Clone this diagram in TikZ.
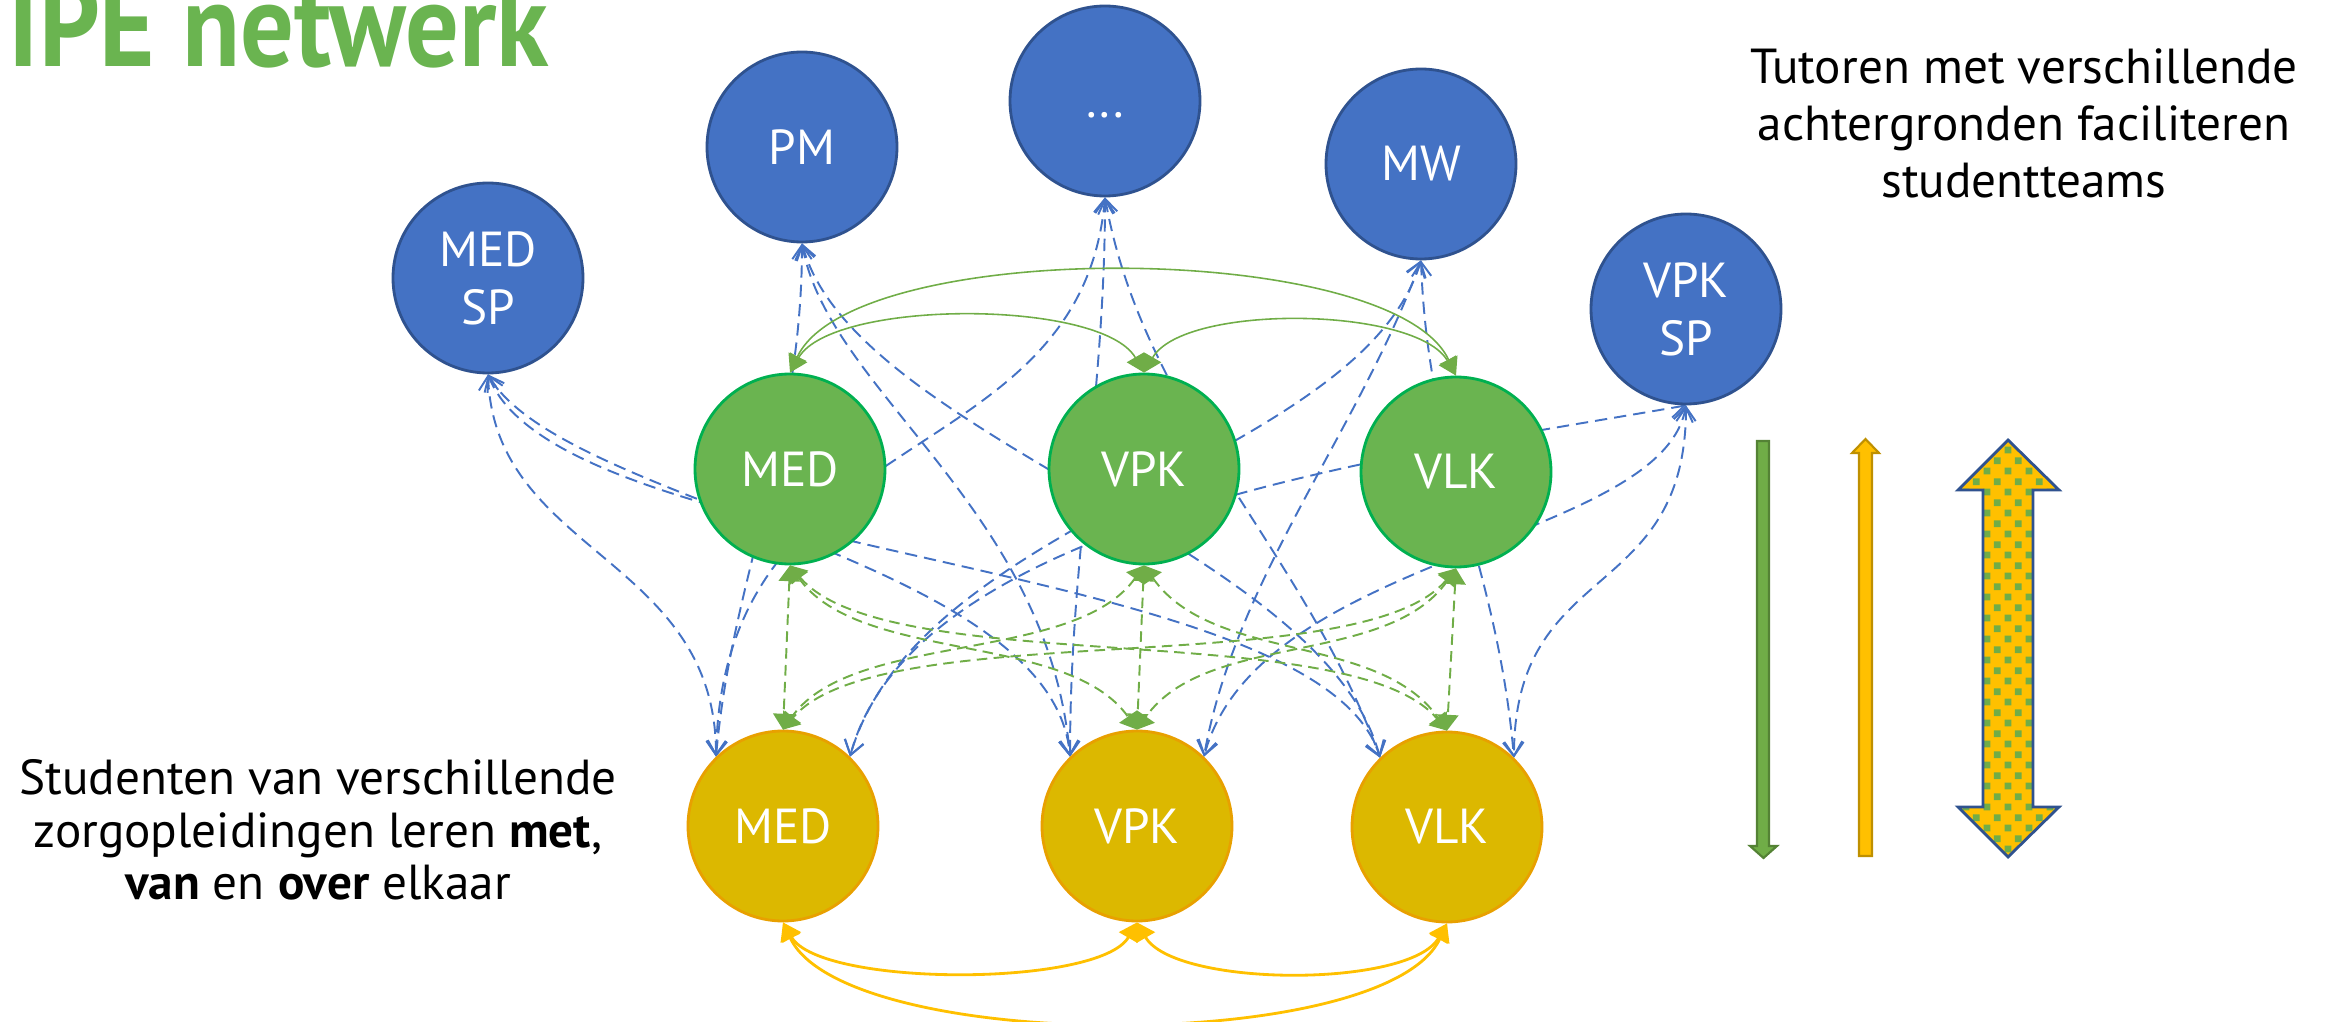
\documentclass[tikz,border=0pt]{standalone}
\usepackage{fontspec}
\setmainfont{PT Sans}
\newfontfamily\kopfont[FakeStretch=0.89]{PT Sans}
\usetikzlibrary{arrows.meta,patterns,backgrounds}
\definecolor{tblue}{HTML}{4472C4}
\definecolor{tbluerim}{HTML}{2F528F}
\definecolor{tgreen}{HTML}{6AB450}
\definecolor{tgreenrim}{HTML}{00B050}
\definecolor{lgreen}{HTML}{70AD47}
\definecolor{dgreen}{HTML}{548235}
\definecolor{tyellow}{HTML}{DCB800}
\definecolor{tyellowrim}{HTML}{E8A000}
\definecolor{lyellow}{HTML}{FFC000}
\definecolor{dyellow}{HTML}{BF9000}
\pgfdeclarepatternformonly{greensquares}{\pgfqpoint{0pt}{0pt}}{\pgfqpoint{6pt}{6pt}}{\pgfqpoint{6pt}{6pt}}{%
	\pgfpathrectangle{\pgfqpoint{0.5pt}{0.5pt}}{\pgfqpoint{2pt}{2pt}}%
	\pgfpathrectangle{\pgfqpoint{3.5pt}{3.5pt}}{\pgfqpoint{2pt}{2pt}}%
	\pgfusepath{fill}}
\tikzset{
	circ/.style={circle,minimum size=1.9cm,inner sep=0pt,line width=0.8pt,text=white,align=center,font=\fontsize{14}{16.5}\selectfont},
	tutor/.style={circ,fill=tblue,draw=tbluerim},
	team/.style={circ,fill=tgreen,draw=tgreenrim},
	stud/.style={circ,fill=tyellow,draw=tyellowrim},
	txt/.style={align=center,inner sep=0pt,font=\fontsize{14}{16.2}\selectfont},
	bline/.style={tblue,line width=0.55pt,dash pattern=on 3.5pt off 2pt,{Straight Barb[length=4pt,width=5.5pt]}-{Straight Barb[length=4pt,width=5.5pt]}},
	gline/.style={lgreen,line width=0.55pt,dash pattern=on 3pt off 1.8pt,{Triangle[length=4.5pt,width=6pt]}-{Triangle[length=4.5pt,width=6pt]}},
	garc/.style={lgreen,line width=0.45pt,{Triangle[length=5pt,width=5.5pt]}-{Triangle[length=5pt,width=5.5pt]}},
	yarc/.style={lyellow,line width=0.8pt,{Triangle[length=5pt,width=6pt]}-{Triangle[length=5pt,width=6pt]}}
}
\begin{document}
\begin{tikzpicture}
	\useasboundingbox (0,0) rectangle (23.43,-10.22);
	\clip (0,0) rectangle (23.43,-10.22);
	\node [anchor=base west,inner sep=0pt,text=tgreen,font=\kopfont\bfseries\fontsize{34}{36}\selectfont] (kop) at (0.08,-0.67) {IPE netwerk};

	\node [tutor] (tMEDSP) at (4.88,-2.78) {MED\\SP};
	\node [tutor] (tPM) at (8.02,-1.47) {PM};
	\node [tutor] (tDOTS) at (11.05,-1.01) {};
	\node [anchor=base,inner sep=0pt,text=white,font=\fontsize{14}{16.5}\selectfont] (dots) at ([yshift=-0.17cm]tDOTS.center) {...};
	\node [tutor] (tMW) at (14.21,-1.64) {MW};
	\node [tutor] (tVPKSP) at (16.86,-3.09) {VPK\\SP};

	\node [team] (gMED) at (7.90,-4.69) {MED};
	\node [team] (gVPK) at (11.44,-4.69) {VPK};
	\node [team] (gVLK) at (14.56,-4.72) {VLK};

	\node [stud] (sMED) at (7.83,-8.26) {MED};
	\node [stud] (sVPK) at (11.37,-8.26) {VPK};
	\node [stud] (sVLK) at (14.47,-8.27) {VLK};

	\begin{scope}[on background layer]
		\draw [bline] (tMEDSP.south) .. controls +(-88:1.8) and +(90:2.0) .. (sMED.134);
		\draw [bline] (tMEDSP.south) .. controls +(-60:1.5) and +(95:2.0) .. (sVPK.134);
		\draw [bline] (tMEDSP.south) .. controls +(-69:2.0) and +(107:2.1) .. (sVLK.134);
		\draw [bline] (tPM.south) .. controls +(-90:2.0) and +(85:1.8) .. (sMED.134);
		\draw [bline] (tPM.south) .. controls +(-80:1.5) and +(95:2.5) .. (sVPK.134);
		\draw [bline] (tPM.south) .. controls +(-75:2.0) and +(105:2.2) .. (sVLK.134);
		\draw [bline] (tDOTS.south) .. controls +(-95:2.8) and +(89:3.4) .. (sMED.134);
		\draw [bline] (tDOTS.south) .. controls +(-90:2.0) and +(90:2.0) .. (sVPK.134);
		\draw [bline] (tDOTS.south) .. controls +(-80:2.2) and +(110:2.2) .. (sVLK.134);
		\draw [bline] (tMW.south) .. controls +(-107:2.1) and +(74:2.5) .. (sMED.46);
		\draw [bline] (tMW.south) .. controls +(-110:1.8) and +(80:1.8) .. (sVPK.46);
		\draw [bline] (tMW.south) .. controls +(-88:2.0) and +(95:2.0) .. (sVLK.46);
		\draw [bline] (tVPKSP.south) .. controls +(-170:2.8) and +(75:2.5) .. (sMED.46);
		\draw [bline] (tVPKSP.south) .. controls +(-100:1.4) and +(75:2.1) .. (sVPK.46);
		\draw [bline] (tVPKSP.south) .. controls +(-90:2.0) and +(90:2.0) .. (sVLK.46);
	\end{scope}

	\draw [gline] (gMED.south) -- (sMED.north);
	\draw [gline] (gVPK.south) -- (sVPK.north);
	\draw [gline] (gVLK.south) -- (sVLK.north);
	\draw [gline] (gMED.south) .. controls +(-55:1.2) and +(125:1.2) .. (sVPK.north);
	\draw [gline] (gMED.south) .. controls +(-50:1.5) and +(130:1.5) .. (sVLK.north);
	\draw [gline] (gVPK.south) .. controls +(-125:1.2) and +(55:1.2) .. (sMED.north);
	\draw [gline] (gVPK.south) .. controls +(-55:1.2) and +(125:1.2) .. (sVLK.north);
	\draw [gline] (gVLK.south) .. controls +(-125:1.2) and +(55:1.2) .. (sVPK.north);
	\draw [gline] (gVLK.south) .. controls +(-130:1.5) and +(50:1.5) .. (sMED.north);

	\draw [garc] (gMED.north) .. controls +(60:0.85) and +(120:0.85) .. (gVPK.north);
	\draw [garc] (gVPK.north) .. controls +(60:0.8) and +(120:0.8) .. (gVLK.north);
	\draw [garc] (gMED.north) .. controls +(65:1.5) and +(115:1.5) .. (gVLK.north);

	\draw [yarc] (sMED.south) .. controls +(-60:0.75) and +(-120:0.75) .. (sVPK.south);
	\draw [yarc] (sVPK.south) .. controls +(-60:0.75) and +(-120:0.75) .. (sVLK.south);
	\draw [yarc] (sMED.south) .. controls +(-65:1.45) and +(-115:1.45) .. (sVLK.south);

	\draw [dgreen,line width=0.6pt,fill=lgreen] (17.57,-4.41) -- (17.69,-4.41) -- (17.69,-8.46) -- (17.77,-8.46) -- (17.635,-8.58) -- (17.50,-8.46) -- (17.57,-8.46) -- cycle;
	\draw [dyellow,line width=0.6pt,fill=lyellow] (18.655,-4.39) -- (18.79,-4.53) -- (18.72,-4.53) -- (18.72,-8.56) -- (18.59,-8.56) -- (18.59,-4.53) -- (18.52,-4.53) -- cycle;
	\draw [tbluerim,line width=0.8pt,preaction={fill=lyellow},pattern=greensquares,pattern color=lgreen] (20.08,-4.40) -- (20.59,-4.90) -- (20.33,-4.90) -- (20.33,-8.07) -- (20.59,-8.07) -- (20.08,-8.57) -- (19.58,-8.07) -- (19.83,-8.07) -- (19.83,-4.90) -- (19.58,-4.90) -- cycle;

	\node [txt] (tutortekst) at (20.24,-1.23) {Tutoren met verschillende\\achtergronden faciliteren\\studentteams};
	\node [txt,font=\fontsize{14}{15}\selectfont] (studtekst) at (3.18,-8.30) {Studenten van verschillende\\zorgopleidingen leren \textbf{met},\\\textbf{van} en \textbf{over} elkaar};
\end{tikzpicture}
\end{document}
